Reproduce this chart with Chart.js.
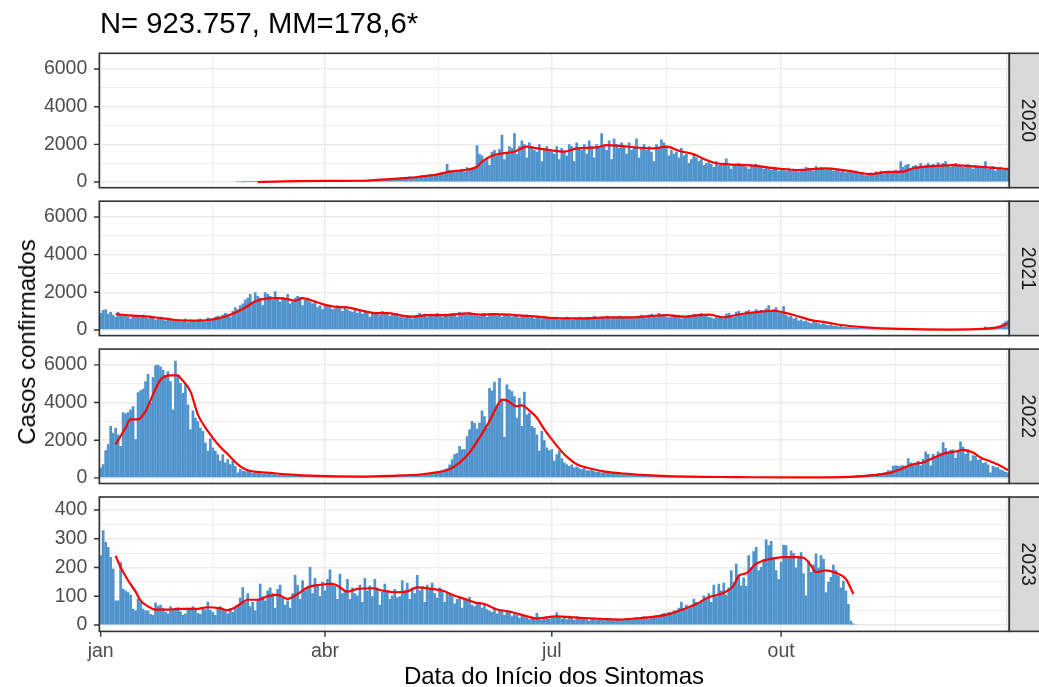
<!DOCTYPE html>
<html>
<head>
<meta charset="utf-8">
<script src="https://cdn.jsdelivr.net/npm/chart.js@4.4.1/dist/chart.umd.min.js"></script>
<style>
  body{margin:0;background:#fff;width:1039px;height:687px;overflow:hidden;position:relative;
       font-family:"Liberation Sans",Arial,sans-serif;}
  .panel{position:absolute;left:0;width:1039px;}
  .txt{position:absolute;white-space:nowrap;line-height:1;z-index:5;}
</style>
</head>
<body>
<div class="txt" id="title" style="left:100px;top:9px;font-size:29.2px;color:#000;">N= 923.757, MM=178,6*</div>
<div class="txt" id="ytitle" style="left:27px;top:342px;font-size:24px;color:#000;transform:translate(-50%,-50%) rotate(-90deg);">Casos confirmados</div>
<div class="txt" id="xtitle" style="left:554px;top:664px;font-size:24px;color:#000;transform:translateX(-50%);">Data do Início dos Sintomas</div>
<div id="panels"></div>
<script>
// ---- data ----
const years = ['2020', '2021', '2022', '2023'];
const monthDays = [0, 90, 181, 273];          // day of year of tick
const monthLabels = ['jan', 'abr', 'jul', 'out'];
const nextYearDay = 365;
const extraGridDay = 363.5;                     // last light line near the right edge
const firstDay = [55, 0, 0, 0];                 // first day with cases in each year

const cases2020 = [
  2,0,1,3,5,2,4,6,8,5,10,12,15,20,25,
  30,35,40,30,45,50,60,55,40,65,70,60,50,55,70,65,60,45,50,60,
  70,75,60,55,80,70,65,75,80,85,70,60,90,95,100,85,80,110,120,100,90,130,140,150,130,120,150,170,160,180,
  200,220,190,250,300,280,230,310,330,350,280,380,420,400,360,450,480,520,430,950,620,560,500,600,650,700,560,780,660,740,720,
  1950,1500,1400,1100,1300,900,1600,1700,1400,1750,2500,1200,1600,1900,1800,2580,1500,1900,2200,2000,1300,2100,1800,1700,1600,2000,1100,1800,1900,1700,
  1700,1500,1900,1200,1800,1600,1400,2000,1900,1100,2100,1800,1700,2000,1500,2200,1900,1300,2000,1800,2580,1900,1700,2200,1200,2300,2000,1800,2100,1900,1500,
  2100,1700,1900,2300,1300,1800,2000,1700,1900,1600,1100,2000,1800,2250,2100,1900,1400,1700,1500,1600,1300,1800,1400,1500,1000,1200,1500,1300,1100,1200,900,
  1000,1050,950,800,1100,900,1000,950,1250,850,700,950,900,1000,850,950,800,700,900,850,950,800,850,700,750,800,650,700,750,600,
  700,650,600,750,600,700,650,550,700,650,800,750,700,600,850,700,800,750,650,700,750,600,650,700,550,600,500,550,650,500,600,
  450,500,400,350,450,500,400,550,500,600,450,500,600,550,500,650,600,1100,800,900,950,700,850,900,800,1000,850,900,1000,800,
  950,900,1050,850,1000,1100,900,800,950,1000,850,900,800,850,950,800,700,900,850,750,800,1100,700,750,850,600,700,800,650,700,750
];
const cases2021 = [
  900,1050,1100,850,950,800,700,950,800,750,850,700,600,800,750,700,650,800,700,600,750,650,550,600,700,550,500,650,600,500,550,
  550,450,500,600,400,550,500,450,550,600,500,450,650,600,550,700,750,650,800,900,850,700,1000,1200,1100,1300,1400,1600,
  1700,1900,1500,2000,1800,1700,1300,2000,1900,1800,1600,2050,1700,1500,1750,1600,1900,1400,1500,1700,1800,1750,1300,1600,1700,1500,1400,1500,1200,1300,1100,
  1300,1250,1200,1100,1150,1300,1200,1000,1250,1100,1000,950,1100,900,1000,850,1050,900,700,950,850,900,800,1000,850,900,750,850,800,900,
  700,800,650,750,700,600,750,800,900,750,850,700,800,850,750,900,800,700,850,750,850,900,800,700,950,850,900,800,950,850,900,
  800,750,850,900,700,800,900,850,750,800,700,850,800,750,700,800,750,650,750,700,800,650,700,600,750,650,600,700,650,600,
  650,600,700,550,600,650,700,600,550,650,600,700,650,600,700,600,650,750,600,650,700,650,750,700,600,700,650,750,700,650,700,
  650,700,600,700,750,800,700,650,800,850,750,700,900,800,750,700,650,700,800,750,650,600,700,750,800,700,850,800,750,900,800,
  850,700,650,600,700,750,650,600,850,900,800,700,950,1000,850,800,1000,1050,950,900,1100,1000,1050,950,1150,1300,1000,1100,1200,1000,
  900,1250,800,700,750,600,650,500,550,450,500,400,350,450,400,350,300,350,280,250,300,220,200,180,200,150,170,140,120,130,110,
  100,90,80,90,70,80,60,70,60,50,60,50,55,45,50,40,50,45,40,50,35,40,45,35,40,30,40,35,30,40,
  30,25,30,20,25,30,20,25,30,20,30,25,30,40,35,30,40,50,45,60,70,180,80,60,100,150,200,250,350,450,500
];
const cases2022 = [
  545,720,1460,1780,2750,2390,2660,2300,1690,3480,3410,3480,3620,3800,2040,4540,4650,4720,5120,5510,3980,5330,5970,6000,5910,5740,5470,5650,5120,3620,6210,
  5470,5030,4500,4950,3890,2570,3570,3190,3010,2660,2480,1870,1430,2090,1600,1430,1250,900,1250,810,985,720,900,630,280,460,370,350,
  400,320,250,350,280,300,220,260,200,250,180,220,150,200,170,190,140,160,130,150,120,140,100,130,110,90,120,100,80,110,90,
  90,80,70,100,60,80,70,90,60,75,65,80,60,70,80,60,75,70,85,65,90,80,70,95,80,100,90,85,110,100,
  110,120,100,130,150,140,170,160,200,180,220,250,230,280,300,320,350,400,450,500,700,985,1250,1300,1690,1510,1510,2200,2570,3010,2900,
  2600,2920,3570,3270,2660,4770,4630,5090,3890,5300,4150,2160,4950,4680,4590,4330,3190,4240,2750,4560,3360,3450,2750,2660,2300,1430,2480,1990,1600,1460,
  1510,900,1250,1430,1040,810,720,630,700,550,600,500,450,520,400,380,420,350,300,330,280,320,250,280,230,260,200,240,180,220,170,
  190,160,150,170,130,150,120,140,110,130,100,120,90,110,100,80,95,85,70,90,80,75,65,80,70,60,75,65,55,70,60,
  45,40,50,35,40,45,30,40,35,45,30,40,35,25,40,30,35,25,30,40,25,35,30,20,35,30,25,35,30,25,
  25,20,15,25,20,15,25,20,30,25,20,35,30,25,35,30,40,35,45,40,50,45,55,50,65,60,75,70,90,100,120,
  130,110,150,140,170,160,200,190,230,220,260,300,400,380,640,650,620,640,660,600,1040,815,700,750,900,650,1000,1400,1260,650,
  1260,1100,1400,1300,1880,1575,1400,1480,1500,1050,1400,1930,1650,1260,1500,900,1200,1170,940,1000,780,820,700,280,640,560,560,440,400,300,280
];
const cases2023 = [
  242,329,288,271,236,195,85,85,219,126,120,114,105,56,50,91,81,56,50,50,38,35,77,67,70,60,45,40,65,55,60,
  62,48,35,40,60,55,65,58,42,38,62,55,81,52,45,35,60,65,55,50,40,58,45,60,70,95,131,80,
  110,65,80,50,90,143,100,85,120,130,110,60,125,140,95,70,85,60,110,174,140,90,155,120,130,201,110,163,140,100,150,
  120,160,193,140,137,90,178,110,120,160,90,130,110,102,140,80,163,120,137,100,160,130,70,115,143,120,90,102,125,96,
  100,155,120,147,90,130,110,174,120,135,80,140,125,147,110,95,130,120,80,114,105,100,75,90,100,60,91,85,97,70,65,
  80,75,60,70,55,50,45,60,40,50,55,35,50,45,30,40,35,25,38,30,25,20,28,22,42,20,18,25,30,22,
  28,25,44,30,22,28,20,32,25,18,30,26,22,28,20,15,25,22,18,24,20,16,22,18,20,15,22,18,20,16,19,
  22,18,25,28,20,24,30,26,22,32,28,35,30,38,42,35,45,40,50,48,60,81,55,70,62,65,91,80,75,85,102,
  95,110,80,140,100,143,120,147,105,130,190,150,213,170,137,165,135,242,200,256,271,190,202,230,297,277,292,236,190,160,
  220,279,277,240,259,250,200,233,253,180,102,224,184,210,248,200,242,230,114,150,167,209,190,172,130,154,120,73,15,5,2
];

// moving average (MM): day of year and value
const mmDays2020 = [63,70,80,90,105,119,128,135,140,146,151,153,157,161,166,171,175,180,186,191,199,203,208,216,222,227,232,238,243,247,252,262,271,280,291,302,309,315,322,326,330,337,342,349,356,364];
const mmVals2020 = [0,20,50,60,70,180,280,400,550,640,810,1080,1400,1520,1610,1880,1790,1700,1610,1790,1840,1960,1920,1820,1790,1880,1660,1470,1170,1000,940,870,730,640,730,550,420,530,550,730,810,870,900,850,780,690];
const mmDays2021 = [6,11,18,25,30,38,43,47,51,57,62,65,71,75,78,81,85,89,94,99,105,110,115,121,125,131,139,147,153,158,166,174,182,194,203,214,220,227,234,240,244,250,255,260,266,270,274,279,286,291,297,307,321,341,354,361,364];
const mmVals2021 = [845,775,720,616,528,493,528,616,757,1109,1514,1637,1690,1637,1549,1690,1549,1373,1232,1197,1020,898,898,757,704,792,792,880,810,845,792,722,634,616,669,669,739,792,704,792,810,669,792,898,986,1020,933,757,493,405,264,141,53,20,53,176,352];
const mmDays2022 = [6,10,12,15,18,21,24,28,31,32,36,39,43,47,51,55,59,67,78,91,105,116,129,136,140,144,148,152,156,159,161,163,167,169,172,175,178,182,186,191,196,203,210,223,236,255,277,303,311,317,321,326,330,335,339,343,346,350,353,357,361,364];
const mmVals2022 = [1780,2660,3100,3100,3540,4420,5210,5440,5440,5300,4590,3360,2480,1780,1250,720,400,280,160,90,70,105,190,320,460,810,1340,2130,3010,3800,4150,4100,3800,3850,3570,3190,2570,1870,1250,720,510,320,230,120,60,40,20,70,160,280,460,725,815,1115,1310,1400,1490,1345,1080,870,640,410];
const mmDays2023 = [6,8,11,14,16,19,22,27,32,38,43,48,51,55,59,63,67,71,75,79,83,89,93,95,99,103,109,113,118,123,127,131,137,142,146,150,154,159,164,170,175,183,191,202,208,215,223,228,234,239,244,250,254,256,259,263,269,274,279,282,285,287,291,295,299,302];
const mmVals2023 = [240,201,155,116,85,65,54,54,56,56,62,58,52,67,88,88,100,105,91,108,131,141,143,137,116,126,128,120,114,117,131,128,120,102,91,79,73,54,47,33,23,30,26,21,19,23,30,38,56,73,97,112,137,172,180,213,230,236,236,234,207,184,190,181,160,108];

const yMajor = [[0,2000,4000,6000],[0,2000,4000,6000],[0,2000,4000,6000],[0,100,200,300,400]];
const yLimits = [[-300,6835],[-300,6835],[-300,6835],[-22,445]];

const casesByYear = [cases2020, cases2021, cases2022, cases2023];
const mmDaysByYear = [mmDays2020, mmDays2021, mmDays2022, mmDays2023];
const mmValsByYear = [mmVals2020, mmVals2021, mmVals2022, mmVals2023];

// ---- layout ----
const FONT = '"Liberation Sans", Arial, sans-serif';
const PANEL_LEFT = 99.3, PANEL_RIGHT = 1009.3, PANEL_H = 134.4;
const PANEL_TOPS = [53.3, 201.2, 349.1, 497];
const GRID = '#EBEBEB', DARK = '#333333', TICKTXT = '#4D4D4D';
const CLEAR = 'rgba(0,0,0,0)';
const TICK_LEN = 5.3;

function mids(arr){ const out=[]; for(let i=0;i<arr.length-1;i++) out.push((arr[i]+arr[i+1])/2); return out; }
function tv(c){ return (c && c.tick) ? c.tick.value : null; }

const xMajorAll = monthDays.concat([extraGridDay]);
const xMinor = mids(monthDays.concat([nextYearDay]));

const framePlugin = {
  id: 'frame',
  afterDatasetsDraw(chart){
    const {ctx, chartArea:a} = chart;
    const o = chart.options.plugins.frame;
    ctx.save();
    ctx.strokeStyle = DARK; ctx.lineWidth = 1.6;
    ctx.strokeRect(a.left, a.top, a.right - a.left, a.bottom - a.top);
    // tick marks for labelled values only
    ctx.lineWidth = 1.4;
    ctx.beginPath();
    o.yMarks.forEach(v => {
      const py = chart.scales.y.getPixelForValue(v);
      ctx.moveTo(a.left - TICK_LEN, py); ctx.lineTo(a.left, py);
    });
    if (o.xMarks) o.xMarks.forEach(v => {
      const px = chart.scales.x.getPixelForValue(v);
      ctx.moveTo(px, a.bottom); ctx.lineTo(px, a.bottom + TICK_LEN);
    });
    ctx.stroke();
    ctx.restore();
  },
  afterDraw(chart){
    const {ctx, chartArea:a} = chart;
    const label = chart.options.plugins.frame.label;
    ctx.save();
    ctx.fillStyle = '#D9D9D9';
    ctx.fillRect(a.right, a.top, 60, a.bottom - a.top);
    ctx.strokeStyle = DARK; ctx.lineWidth = 1.6;
    ctx.strokeRect(a.right, a.top, 60, a.bottom - a.top);
    ctx.translate(a.right + 19.4, (a.top + a.bottom) / 2);
    ctx.rotate(Math.PI / 2);
    ctx.font = '19.5px ' + FONT;
    ctx.fillStyle = '#1A1A1A';
    ctx.textAlign = 'center'; ctx.textBaseline = 'middle';
    ctx.fillText(label, 0, 1);
    ctx.restore();
  }
};

function makePanel(i){
  const last = i === years.length - 1;
  const top = PANEL_TOPS[i];
  const boxTop = Math.floor(top) - 26;
  const bottomEdge = top + PANEL_H;
  const boxH = last ? 687 - boxTop : Math.ceil(bottomEdge + 26 - boxTop);
  const axisH = last ? 40 : 0;
  const padBottom = boxTop + boxH - bottomEdge - axisH;

  const div = document.createElement('div');
  div.className = 'panel';
  div.style.top = boxTop + 'px';
  div.style.height = boxH + 'px';
  const cv = document.createElement('canvas');
  div.appendChild(cv);
  document.getElementById('panels').appendChild(div);

  const majors = yMajor[i];
  const minors = mids(majors);
  const yTicks = majors.concat(minors).sort((a, b) => a - b);
  const xTicks = xMajorAll.concat(xMinor).sort((a, b) => a - b);
  const isMajorY = v => majors.includes(v);
  const isMajorX = v => xMajorAll.includes(v);

  const barData = casesByYear[i].map((v, k) => ({x: firstDay[i] + k, y: v}));
  const lineData = mmDaysByYear[i].map((d, k) => ({x: d, y: mmValsByYear[i][k]}));

  new Chart(cv, {
    type: 'bar',
    data: {
      datasets: [
        { type: 'line', data: lineData, borderColor: '#FF0000', borderWidth: 2.2,
          pointRadius: 0, fill: false, cubicInterpolationMode: 'monotone', order: 1 },
        { type: 'bar', data: barData, backgroundColor: '#4F94CD', borderWidth: 0,
          barPercentage: 1, categoryPercentage: 1, inflateAmount: 0.1, order: 2 }
      ]
    },
    options: {
      animation: false,
      responsive: true,
      maintainAspectRatio: false,
      events: [],
      layout: { padding: { top: top - boxTop, bottom: padBottom, left: 0, right: 1039 - PANEL_RIGHT } },
      plugins: {
        legend: { display: false }, tooltip: { enabled: false },
        frame: { label: years[i], yMarks: majors, xMarks: last ? monthDays : null }
      },
      scales: {
        x: {
          type: 'linear', min: -0.56, max: 364.56, offset: false,
          afterBuildTicks(s){ s.ticks = xTicks.map(v => ({value: v})); },
          afterFit(s){ s.height = axisH; },
          border: { display: false },
          grid: {
            offset: false,
            color: GRID,
            lineWidth: c => isMajorX(tv(c)) ? 1.5 : 0.8,
            drawTicks: last, tickLength: TICK_LEN,
            tickWidth: 0, tickColor: CLEAR
          },
          ticks: {
            display: last, autoSkip: false, maxRotation: 0, padding: 3,
            color: TICKTXT, font: { family: FONT, size: 19.5 },
            callback: v => { const k = monthDays.indexOf(v); return k >= 0 ? monthLabels[k] : ''; }
          }
        },
        y: {
          min: yLimits[i][0], max: yLimits[i][1],
          afterBuildTicks(s){ s.ticks = yTicks.map(v => ({value: v})); },
          afterFit(s){ s.width = PANEL_LEFT; },
          border: { display: false },
          grid: {
            offset: false,
            color: GRID,
            lineWidth: c => isMajorY(tv(c)) ? 1.5 : 0.8,
            tickLength: TICK_LEN, tickWidth: 0, tickColor: CLEAR
          },
          ticks: {
            autoSkip: false, padding: 6.7, color: TICKTXT,
            font: { family: FONT, size: 19.5 },
            callback: v => isMajorY(v) ? String(v) : ''
          }
        }
      }
    },
    plugins: [framePlugin]
  });
}

for (let i = 0; i < years.length; i++) makePanel(i);
</script>
</body>
</html>
